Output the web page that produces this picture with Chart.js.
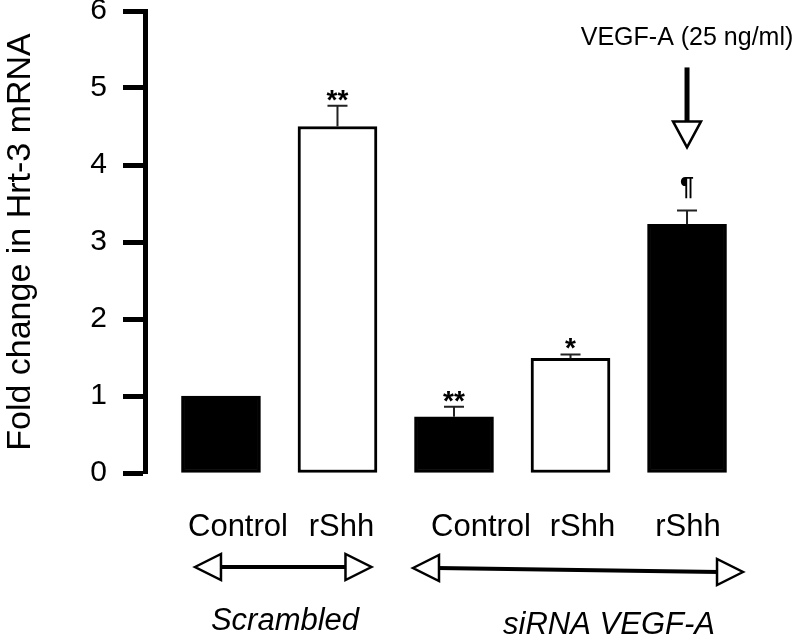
<!DOCTYPE html>
<html>
<head>
<meta charset="utf-8">
<title>Hrt-3 mRNA</title>
<script src="https://cdn.jsdelivr.net/npm/chart.js@4.4.1/dist/chart.umd.min.js"></script>
<style>
	body { margin: 0; background: #fff; }
	#wrap { width: 800px; height: 643px; }
</style>
</head>
<body>
<div id="wrap"><canvas id="canvasHrt" width="800" height="643"></canvas></div>
<script>
"use strict";

// data
var categories = ['Control', 'rShh', 'Control', 'rShh', 'rShh'];
var foldChange = [1.0, 4.5, 0.73, 1.49, 3.23];
var errorUp = [0, 0.27, 0.13, 0.05, 0.18];
var sigLabels = ['', '**', '**', '*', '¶'];
var barFill = ['#000', '#fff', '#000', '#fff', '#000'];
var yTicks = [0, 1, 2, 3, 4, 5, 6];
var groups = ['Scrambled', 'siRNA VEGF-A'];
var groupMembers = [[0, 1], [2, 3, 4]];
var treatmentLabel = 'VEGF-A (25 ng/ml)';

var fontFamily = '"Liberation Sans", Arial, Helvetica, sans-serif';

// small nudges so the text / brackets sit like the original
var labelShift = [17, 4, 27, 12, 1];
var bracketLeft = [-26, -41];
var bracketRight = [34, 56];
var groupCenter = [285, 609];

function OpenHead(ctx, tipX, tipY, dirX, dirY, len, half) {
	// open triangle, tip at (tipX, tipY), pointing along (dirX, dirY)
	var bx = tipX - dirX * len;
	var by = tipY - dirY * len;
	ctx.beginPath();
	ctx.moveTo(tipX, tipY);
	ctx.lineTo(bx - dirY * half, by + dirX * half);
	ctx.lineTo(bx + dirY * half, by - dirX * half);
	ctx.closePath();
	ctx.fillStyle = '#fff';
	ctx.fill();
	ctx.lineWidth = 2.5;
	ctx.strokeStyle = '#000';
	ctx.stroke();
}

function $each(arr, fn) {
	for (var i = 0; i < arr.length; i++) fn(i, arr[i]);
}

var annotations = {
	id: 'annotations',
	afterDatasetsDraw: function (chart) {
		var ctx = chart.ctx;
		var y = chart.scales.y;
		var meta = chart.getDatasetMeta(0);
		var area = chart.chartArea;

		ctx.save();
		// error bars + significance marks
		$each(foldChange, function (i, v) {
			var bar = meta.data[i];
			var yBar = y.getPixelForValue(v);
			var yCap = y.getPixelForValue(v + errorUp[i]);
			if (errorUp[i] > 0) {
				ctx.beginPath();
				ctx.strokeStyle = '#222';
				ctx.lineWidth = 2;
				ctx.moveTo(bar.x, yBar);
				ctx.lineTo(bar.x, yCap);
				ctx.moveTo(bar.x - 10, yCap);
				ctx.lineTo(bar.x + 10, yCap);
				ctx.stroke();
			}
			if (sigLabels[i]) {
				ctx.fillStyle = '#000';
				ctx.textAlign = 'center';
				ctx.textBaseline = 'alphabetic';
				if (sigLabels[i] === '¶') {
					ctx.font = 'bold 25px ' + fontFamily;
					ctx.fillText(sigLabels[i], bar.x, yCap - 15);
				} else {
					ctx.font = 'bold 28px ' + fontFamily;
					ctx.fillText(sigLabels[i], bar.x, yCap + 3);
				}
			}
		});

		// VEGF-A arrow over the last bar
		var last = foldChange.length - 1;
		var lx = meta.data[last].x;
		var tip = y.getPixelForValue(foldChange[last] + errorUp[last]) - 63;
		ctx.beginPath();
		ctx.strokeStyle = '#000';
		ctx.lineWidth = 5;
		ctx.moveTo(lx, tip - 80);
		ctx.lineTo(lx, tip - 24);
		ctx.stroke();
		OpenHead(ctx, lx, tip, 0, 1, 26, 14);
		ctx.fillStyle = '#000';
		ctx.font = '25px ' + fontFamily;
		ctx.textAlign = 'center';
		ctx.textBaseline = 'middle';
		ctx.fillText(treatmentLabel, lx, tip - 109);

		// category labels under the bars
		ctx.font = '31px ' + fontFamily;
		$each(categories, function (i, c) {
			ctx.fillText(c, meta.data[i].x + labelShift[i], area.bottom + 54);
		});

		// group brackets (double open arrows) and group names
		var arrowY = [area.bottom + 94, area.bottom + 97];
		var groupY = [area.bottom + 148, area.bottom + 152];
		$each(groups, function (g, name) {
			var ids = groupMembers[g];
			var x0 = meta.data[ids[0]].x + bracketLeft[g];
			var x1 = meta.data[ids[ids.length - 1]].x + bracketRight[g];
			var tilt = g === 1 ? 2 : 0;
			ctx.beginPath();
			ctx.lineWidth = 4;
			ctx.strokeStyle = '#000';
			ctx.moveTo(x0 + 24, arrowY[g] - tilt);
			ctx.lineTo(x1 - 24, arrowY[g] + tilt);
			ctx.stroke();
			OpenHead(ctx, x0, arrowY[g] - tilt, -1, 0, 26, 13);
			OpenHead(ctx, x1, arrowY[g] + tilt, 1, 0, 26, 13);

			ctx.fillStyle = '#000';
			ctx.font = 'italic 31px ' + fontFamily;
			ctx.fillText(name, groupCenter[g], groupY[g]);
		});
		ctx.restore();
	}
};

var points = [];
$each(foldChange, function (i, v) {
	points.push({ x: i, y: v });
});

const context = document.getElementById('canvasHrt');
const myChart = new Chart(context, {
	type: 'bar',
	data: {
		datasets: [{
			label: 'Fold change',
			data: points,
			backgroundColor: barFill,
			borderColor: '#000',
			borderWidth: 3,
			borderSkipped: false,
			barThickness: 79
		}]
	},
	options: {
		responsive: false,
		animation: false,
		devicePixelRatio: 1,
		layout: {
			padding: { left: 0, right: 20, top: 11, bottom: 170 }
		},
		plugins: {
			legend: { display: false },
			tooltip: { enabled: false }
		},
		scales: {
			x: {
				type: 'linear',
				display: false,
				offset: false,
				min: -0.652,
				max: 4.798
			},
			y: {
				min: 0,
				max: 6,
				afterFit: function (scale) {
					scale.width = 145;
					scale.paddingTop = 0;
					scale.paddingBottom = 0;
				},
				afterBuildTicks: function (scale) {
					scale.ticks = yTicks.map(function (t) { return { value: t }; });
				},
				border: { display: true, color: '#000', width: 5 },
				grid: {
					drawOnChartArea: false,
					drawTicks: true,
					tickLength: 22,
					tickWidth: 5,
					tickColor: '#000'
				},
				ticks: {
					color: '#000',
					padding: 16,
					font: { family: fontFamily, size: 30, lineHeight: 0.7 }
				},
				title: {
					display: true,
					text: 'Fold change in Hrt-3 mRNA',
					color: '#000',
					padding: 0,
					font: { family: fontFamily, size: 34 }
				}
			}
		}
	},
	plugins: [annotations]
});
</script>
</body>
</html>
